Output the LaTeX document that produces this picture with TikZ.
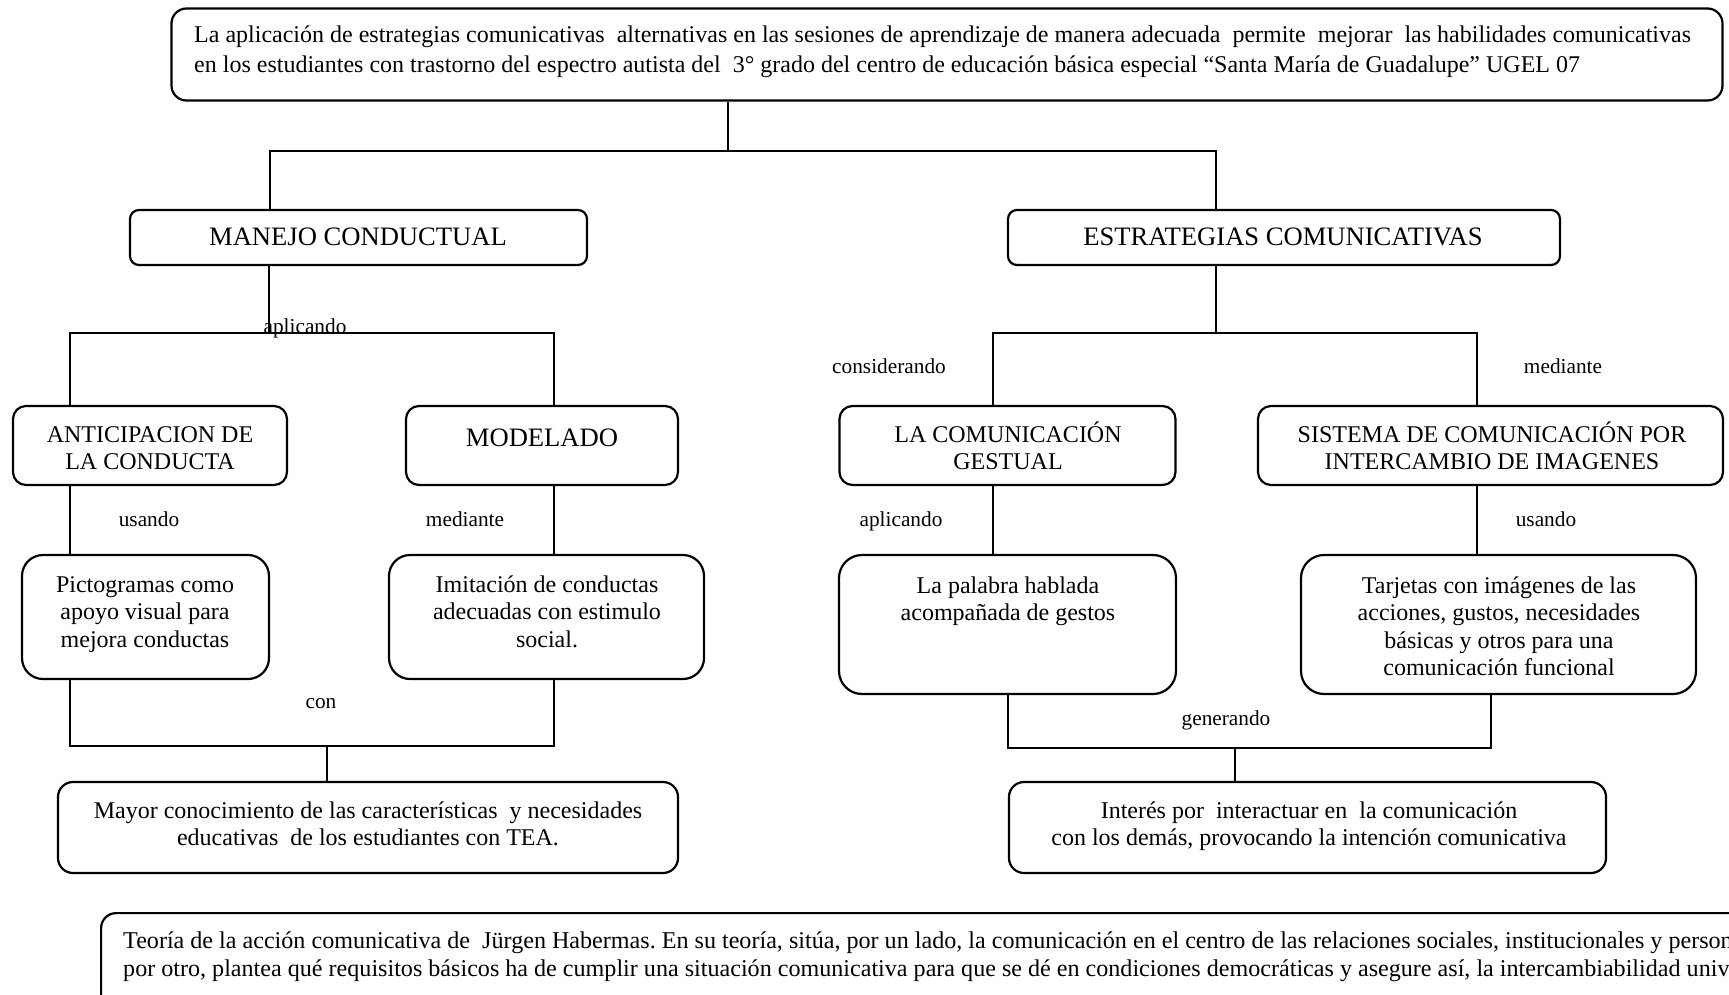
\documentclass[tikz,border=0pt]{standalone}
\usepackage{fontspec}
\setmainfont{Liberation Serif}
\frenchspacing
\begin{document}
\begin{tikzpicture}[x=1pt,y=-1pt,
  box/.style={draw, line width=2.2pt, rounded corners=#1, inner sep=0pt},
  box/.default=14pt,
  conn/.style={line width=1.6pt},
  txt/.style={font=\fontsize{24}{27.5}\selectfont, align=center, inner sep=0pt, anchor=base},
  big/.style={font=\fontsize{26.6}{30}\selectfont, align=center, inner sep=0pt, anchor=base},
  lbl/.style={font=\fontsize{21.3}{24}\selectfont, inner sep=0pt, anchor=base}]
\useasboundingbox (0,0) rectangle (1729,995);
\clip (0,0) rectangle (1729,995);

% ---------- boxes ----------
\node[box=15pt, minimum width=1551pt, minimum height=92pt] (b-top) at (947,54.5) {};
\node[box=9pt, minimum width=457pt, minimum height=55pt] (b-manejo) at (358.5,237.5) {};
\node[box=9pt, minimum width=552pt, minimum height=55pt] (b-estr) at (1284,237.5) {};
\node[box=13pt, minimum width=274pt, minimum height=79pt] (b-antic) at (150,445.5) {};
\node[box=13pt, minimum width=272pt, minimum height=79pt] (b-model) at (542,445.5) {};
\node[box=13pt, minimum width=336pt, minimum height=79pt] (b-lacom) at (1007.5,445.5) {};
\node[box=13pt, minimum width=465pt, minimum height=79pt] (b-sist) at (1490.5,445.5) {};
\node[box=21pt, minimum width=247pt, minimum height=124pt] (b-picto) at (145.5,617) {};
\node[box=21pt, minimum width=315pt, minimum height=124pt] (b-imit) at (546.5,617) {};
\node[box=23pt, minimum width=337pt, minimum height=139pt] (b-palabra) at (1007.5,624.5) {};
\node[box=23pt, minimum width=395pt, minimum height=139pt] (b-tarj) at (1498.5,624.5) {};
\node[box=15pt, minimum width=620pt, minimum height=91pt] (b-mayor) at (368,827.5) {};
\node[box=15pt, minimum width=597pt, minimum height=91pt] (b-inter) at (1307.5,827.5) {};
\node[box=15pt, minimum width=1700pt, minimum height=150pt, anchor=north west] (b-theory) at (100,912) {};

% ---------- texts (anchor base = baseline of the last line) ----------
\node[font=\fontsize{24}{30}\selectfont, align=left, anchor=base west, inner sep=0pt] (t-top) at (194,73)
 {La aplicación de estrategias comunicativas\ \ alternativas en las sesiones de aprendizaje de manera adecuada\ \ permite\ \ mejorar\ \ las habilidades comunicativas\\
  en los estudiantes con trastorno del espectro autista del\ \ 3° grado del centro de educación básica especial “Santa María de Guadalupe” UGEL 07};
\node[big] (t-manejo) at (358,245) {MANEJO CONDUCTUAL};
\node[big] (t-estr) at (1283,245) {ESTRATEGIAS COMUNICATIVAS};
\node[txt] (t-antic) at (150,469.5) {ANTICIPACION DE\\LA CONDUCTA};
\node[big] (t-model) at (542,446) {MODELADO};
\node[txt] (t-lacom) at (1008,469.5) {LA COMUNICACIÓN\\GESTUAL};
\node[txt] (t-sist) at (1492,469.5) {SISTEMA DE COMUNICACIÓN POR\\INTERCAMBIO DE IMAGENES};
\node[txt] (t-picto) at (145,647) {Pictogramas como\\apoyo visual para\\mejora conductas};
\node[txt] (t-imit) at (547,647) {Imitación de conductas\\adecuadas con estimulo\\social.};
\node[txt] (t-palabra) at (1008,620.5) {La palabra hablada\\acompañada de gestos};
\node[txt] (t-tarj) at (1499,675.5) {Tarjetas con imágenes de las\\acciones, gustos, necesidades\\básicas y otros para una\\comunicación funcional};
\node[txt] (t-mayor) at (368,845.5) {Mayor conocimiento de las características\ \ y necesidades\\educativas\ \ de los estudiantes con TEA.};
\node[txt] (t-inter) at (1309,845.5) {Interés por\ \ interactuar en\ \ la comunicación\\con los demás, provocando la intención comunicativa};
\node[font=\fontsize{24.1}{28}\selectfont, align=left, anchor=base west, inner sep=0pt] (t-theory) at (123,976)
 {Teoría de la acción comunicativa de\ \ Jürgen Habermas. En su teoría, sitúa, por un lado, la comunicación en el centro de las relaciones sociales, institucionales y personales\\
  por otro, plantea qué requisitos básicos ha de cumplir una situación comunicativa para que se dé en condiciones democráticas y asegure así, la intercambiabilidad universal};

% ---------- labels ----------
\node[lbl] (l-aplic1) at (305,333) {aplicando};
\node[lbl] (l-consid) at (889,373) {considerando};
\node[lbl] (l-med1) at (1563,373) {mediante};
\node[lbl] (l-usando1) at (149,526) {usando};
\node[lbl] (l-med2) at (465,526) {mediante};
\node[lbl] (l-aplic2) at (901,526) {aplicando};
\node[lbl] (l-usando2) at (1546,526) {usando};
\node[lbl] (l-con) at (321,708) {con};
\node[lbl] (l-gen) at (1226,725) {generando};

% ---------- junctions ----------
\coordinate (j-top) at (728,151);
\coordinate (j-l) at (270,151);
\coordinate (j-r) at (1216,151);
\coordinate (m-c) at (269,333);
\coordinate (m-l) at (70,333);
\coordinate (m-r) at (554,333);
\coordinate (e-c) at (1216,333);
\coordinate (e-l) at (993,333);
\coordinate (e-r) at (1477,333);
\coordinate (c-l) at (70,746);
\coordinate (c-r) at (554,746);
\coordinate (c-c) at (327,746);
\coordinate (g-l) at (1008,748);
\coordinate (g-r) at (1491,748);
\coordinate (g-c) at (1235,748);

% ---------- connectors ----------
\draw[conn] (b-top.south -| j-top) -- (j-top);
\draw[conn] (b-manejo.north -| j-l) |- (j-r) -- (b-estr.north -| j-r);
\draw[conn] (b-manejo.south -| m-c) -- (m-c);
\draw[conn] (b-antic.north -| m-l) |- (m-r) -- (b-model.north -| m-r);
\draw[conn] (b-estr.south -| e-c) -- (e-c);
\draw[conn] (b-lacom.north -| e-l) |- (e-r) -- (b-sist.north -| e-r);
\draw[conn] (b-antic.south -| m-l) -- (b-picto.north -| m-l);
\draw[conn] (b-model.south -| m-r) -- (b-imit.north -| m-r);
\draw[conn] (b-lacom.south -| e-l) -- (b-palabra.north -| e-l);
\draw[conn] (b-sist.south -| e-r) -- (b-tarj.north -| e-r);
\draw[conn] (b-picto.south -| c-l) |- (c-r) -- (b-imit.south -| c-r);
\draw[conn] (c-c) -- (b-mayor.north -| c-c);
\draw[conn] (b-palabra.south -| g-l) |- (g-r) -- (b-tarj.south -| g-r);
\draw[conn] (g-c) -- (b-inter.north -| g-c);
\end{tikzpicture}
\end{document}
